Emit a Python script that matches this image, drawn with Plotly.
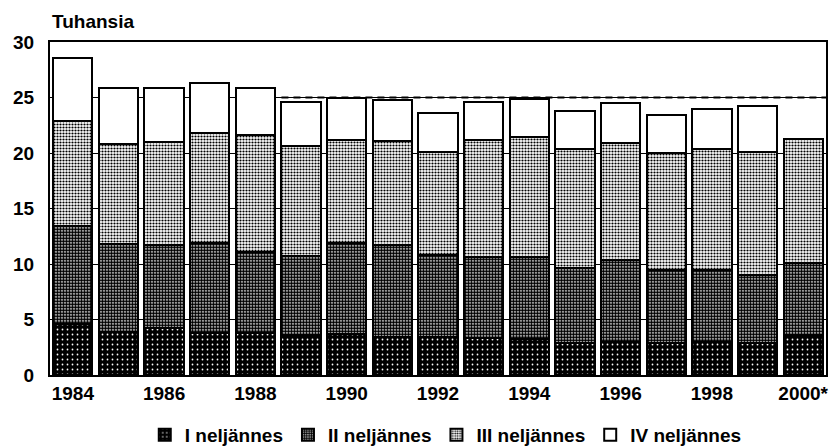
import plotly.graph_objects as go

years = ["1984", "1985", "1986", "1987", "1988", "1989", "1990", "1991", "1992",
         "1993", "1994", "1995", "1996", "1997", "1998", "1999", "2000*"]

# cumulative tops
top_q1 = [4.6, 3.9, 4.2, 3.8, 3.8, 3.6, 3.7, 3.4, 3.4, 3.3, 3.2, 2.9, 3.0, 2.9, 3.0, 2.9, 3.6]
top_q2 = [13.4, 11.8, 11.7, 11.9, 11.1, 10.7, 11.9, 11.7, 10.8, 10.6, 10.6, 9.6, 10.4, 9.5, 9.5, 9.0, 10.1]
top_q3 = [22.9, 20.8, 21.0, 21.8, 21.6, 20.6, 21.2, 21.1, 20.1, 21.2, 21.4, 20.4, 20.9, 20.0, 20.4, 20.1, 21.3]
top_q4 = [28.6, 25.9, 25.9, 26.3, 25.9, 24.6, 25.0, 24.8, 23.6, 24.6, 24.9, 23.8, 24.5, 23.4, 24.0, 24.2, 21.3]

q1 = top_q1
q2 = [round(b - a, 2) for a, b in zip(top_q1, top_q2)]
q3 = [round(b - a, 2) for a, b in zip(top_q2, top_q3)]
q4 = [round(b - a, 2) for a, b in zip(top_q3, top_q4)]

series_names = ["I neljännes", "II neljännes", "III neljännes", "IV neljännes"]
tick_years = ["1984", "1986", "1988", "1990", "1992", "1994", "1996", "1998", "2000*"]
y_ticks = [0, 5, 10, 15, 20, 25, 30]
ref_level = 25
ref_start_year = "1989"

FONT = "Liberation Sans, Arial, sans-serif"
bargap = 0.14

patterns = [
    dict(shape=".", bgcolor="#000000", fgcolor="#ffffff", size=5, solidity=0.1, fillmode="replace"),
    dict(shape=".", bgcolor="#ffffff", fgcolor="#000000", size=3, solidity=0.75, fillmode="replace"),
    dict(shape=".", bgcolor="#ffffff", fgcolor="#000000", size=3, solidity=0.42, fillmode="replace"),
    dict(shape="", bgcolor="#ffffff", fgcolor="#ffffff"),
]

fig = go.Figure()
for name, vals, pat in zip(series_names, [q1, q2, q3, q4], patterns):
    fig.add_trace(go.Bar(
        x=years, y=vals, name=name,
        marker=dict(color="#ffffff", pattern=pat, line=dict(color="#000000", width=2)),
    ))

x0 = years.index(ref_start_year) - (1 - bargap) / 2
fig.add_shape(type="line", xref="x", yref="y", x0=x0, x1=len(years) - 0.5,
              y0=ref_level, y1=ref_level,
              line=dict(color="#000000", width=2, dash="7px,5px"), layer="below")

fig.update_layout(
    width=830, height=447,
    barmode="stack", bargap=bargap,
    margin=dict(l=50, r=4, t=42, b=72, autoexpand=False),
    paper_bgcolor="#ffffff", plot_bgcolor="#ffffff",
    font=dict(family=FONT, size=19, color="#000000"),
    showlegend=True,
    legend=dict(orientation="h", x=0.51, xanchor="center", yref="container", y=0.027, yanchor="middle",
                font=dict(family=FONT, size=19, color="#000000", weight="bold"),
                itemwidth=30, tracegroupgap=0, traceorder="normal"),
    annotations=[dict(text="Tuhansia", xref="paper", yref="paper", x=0.0, y=1.0,
                      xanchor="left", yanchor="bottom", yshift=8, showarrow=False,
                      font=dict(family=FONT, size=19, color="#000000", weight="bold"))],
)
fig.update_xaxes(type="category", tickmode="array", tickvals=tick_years, ticktext=tick_years,
                 tickfont=dict(family=FONT, size=19, weight="bold"),
                 showline=True, mirror=True, linecolor="#000000", linewidth=2,
                 showgrid=False, ticks="", range=[-0.5, len(years) - 0.5])
fig.update_yaxes(range=[0, 30], tickvals=y_ticks, ticks="", ticklabelstandoff=10,
                 tickfont=dict(family=FONT, size=19, weight="bold"),
                 showline=True, mirror=True, linecolor="#000000", linewidth=2,
                 showgrid=True, gridcolor="#000000", gridwidth=1, zeroline=False)

fig.write_html("out.html", config={"displayModeBar": False},
               post_script="document.body.style.margin='0';")
